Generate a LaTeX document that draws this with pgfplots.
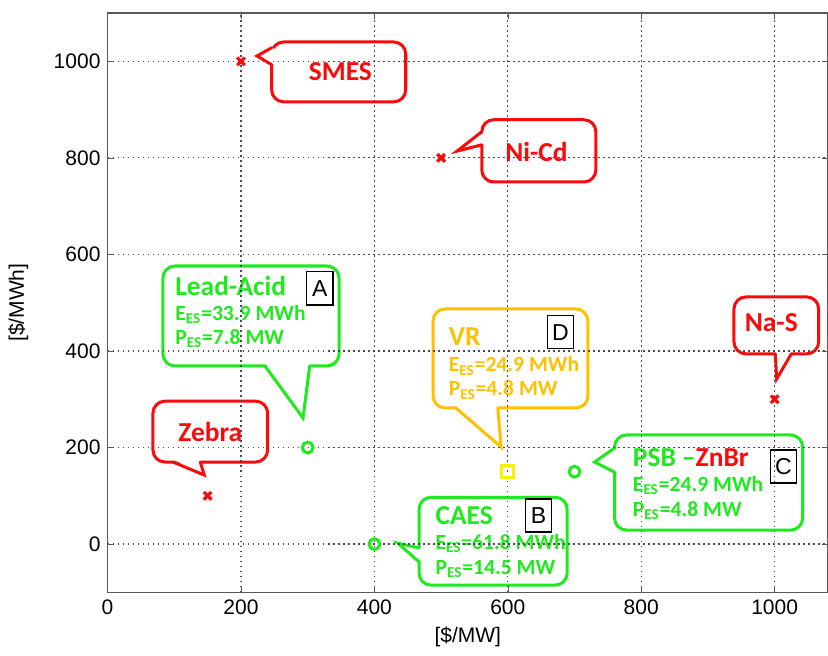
\documentclass[border=0pt]{standalone}
\usepackage{fontspec}
\setmainfont{Liberation Sans}
\newfontfamily\calib{Carlito}
\usepackage{pgfplots}
\pgfplotsset{compat=1.18}
\definecolor{cR}{RGB}{250,10,10}
\definecolor{cG}{RGB}{30,235,30}
\definecolor{cO}{RGB}{255,192,0}
\definecolor{cY}{RGB}{255,240,0}
\tikzset{
  cbox/.style={line width=1.5pt, rounded corners=6pt},
  carm/.style={line width=1.5pt, line cap=round, line join=miter},
  ttl/.style={font=\calib\bfseries\fontsize{13.7}{15}\selectfont, inner sep=0pt},
  sub/.style={font=\calib\bfseries\fontsize{10.8}{12}\selectfont, inner sep=0pt, anchor=west},
  lbox/.style={draw=black, line width=0.8pt, inner sep=0pt, minimum width=13pt, minimum height=16.5pt, font=\fontsize{11.5}{12}\selectfont},
}
\begin{document}
\begin{tikzpicture}
\begin{axis}[name=ax, scale only axis, width=360pt, height=289.5pt,
  xmin=0, xmax=1080, ymin=-100, ymax=1100,
  xtick={0,200,...,1000}, ytick={0,200,...,1000},
  grid=major, grid style={dash pattern=on 0.9pt off 1.6pt, black!70, line width=0.6pt},
  tick align=inside, major tick length=3pt,
  axis line style={black!65, line width=0.6pt}, tick style={black!65},
  ticklabel style={font=\fontsize{10.5}{12}\selectfont},
  /pgf/number format/assume math mode=true,
  /pgf/number format/1000 sep={},
  xlabel={[\$/MW]}, ylabel={[\$/MWh]},
  label style={font=\fontsize{10.5}{12}\selectfont},
  xlabel style={at={(axis description cs:0.5,-0.076)}, anchor=center},
  ylabel style={at={(axis description cs:-0.124,0.5)}, anchor=center},
  axis on top, clip=false]

\addplot[only marks, mark=x, cR, mark size=2.7pt, line width=1.6pt] coordinates {(200,1000) (500,800) (1000,300) (150,100)};
\addplot[only marks, mark=o, cG, mark size=2.7pt, line width=1.5pt] coordinates {(300,200) (400,0) (700,150)};
\addplot[only marks, mark=square, cY, mark size=3pt, line width=1.5pt] coordinates {(600,150)};

% SMES
\draw[cR, cbox] (axis cs:246,916) rectangle (axis cs:447,1040);
\fill[white] (axis cs:250,1028) -- (axis cs:224,1011) -- (axis cs:250,993) -- cycle;
\draw[cR, carm] (axis cs:246,1028) -- (axis cs:224,1011) -- (axis cs:246,993);
\node[ttl, text=cR] at (axis cs:349,978) {SMES};
% Ni-Cd
\draw[cR, cbox] (axis cs:561,750) rectangle (axis cs:732,879);
\fill[white] (axis cs:565,854) -- (axis cs:524,814) -- (axis cs:565,827) -- cycle;
\draw[cR, carm] (axis cs:561,854) -- (axis cs:524,814) -- (axis cs:561,827);
\node[ttl, text=cR] at (axis cs:643,812) {Ni-Cd};
% Na-S
\draw[cR, cbox] (axis cs:939,394) rectangle (axis cs:1066,512);
\fill[white] (axis cs:1001,399) -- (axis cs:1003,342) -- (axis cs:1025,399) -- cycle;
\draw[cR, carm] (axis cs:1001,394) -- (axis cs:1003,342) -- (axis cs:1025,394);
\node[ttl, text=cR] at (axis cs:995,458) {Na-S};
% Zebra
\draw[cR, cbox] (axis cs:68,170) rectangle (axis cs:240,296);
\fill[white] (axis cs:98,175) -- (axis cs:145,143) -- (axis cs:139,175) -- cycle;
\draw[cR, carm] (axis cs:98,170) -- (axis cs:145,143) -- (axis cs:139,170);
\node[ttl, text=cR] at (axis cs:154,232) {Zebra};
% Lead-Acid
\draw[cG, cbox] (axis cs:83,369) rectangle (axis cs:347,576);
\fill[white] (axis cs:236,374) -- (axis cs:293,261) -- (axis cs:303,374) -- cycle;
\draw[cG, carm] (axis cs:236,369) -- (axis cs:293,261) -- (axis cs:303,369);
\node[ttl, text=cG, anchor=west] at (axis cs:101,535) {Lead-Acid};
\node[sub, text=cG] at (axis cs:101,475) {E\textsubscript{ES}=33.9 MWh};
\node[sub, text=cG] at (axis cs:101,425) {P\textsubscript{ES}=7.8 MW};
\node[lbox] at (axis cs:318,530) {A};
% VR
\draw[cO, cbox] (axis cs:488,282) rectangle (axis cs:720,487);
\fill[white] (axis cs:522,287) -- (axis cs:590,201) -- (axis cs:585,287) -- cycle;
\draw[cO, carm] (axis cs:522,282) -- (axis cs:590,201) -- (axis cs:585,282);
\node[ttl, text=cO, anchor=west] at (axis cs:511,429) {VR};
\node[sub, text=cO] at (axis cs:511,369) {E\textsubscript{ES}=24.9 MWh};
\node[sub, text=cO] at (axis cs:511,319) {P\textsubscript{ES}=4.8 MW};
\node[lbox] at (axis cs:679,439) {D};
% CAES
\draw[cG, cbox] (axis cs:467,-85) rectangle (axis cs:689,97);
\fill[white] (axis cs:471,-8) -- (axis cs:435,2) -- (axis cs:471,-37) -- cycle;
\draw[cG, carm] (axis cs:467,-8) -- (axis cs:435,2) -- (axis cs:467,-37);
\node[ttl, text=cG, anchor=west] at (axis cs:491,60) {CAES};
\node[sub, text=cG] at (axis cs:491,2) {E\textsubscript{ES}=61.8 MWh};
\node[sub, text=cG] at (axis cs:491,-52) {P\textsubscript{ES}=14.5 MW};
\node[lbox] at (axis cs:646,59) {B};
% PSB-ZnBr
\draw[cG, cbox] (axis cs:760,29) rectangle (axis cs:1042,226);
\fill[white] (axis cs:764,199) -- (axis cs:730,170) -- (axis cs:764,149) -- cycle;
\draw[cG, carm] (axis cs:760,199) -- (axis cs:730,170) -- (axis cs:760,149);
\node[ttl, text=cG, anchor=west] at (axis cs:787,180) {PSB –\textcolor{cR}{ZnBr}};
\node[sub, text=cG] at (axis cs:787,122) {E\textsubscript{ES}=24.9 MWh};
\node[sub, text=cG] at (axis cs:787,70) {P\textsubscript{ES}=4.8 MW};
\node[lbox] at (axis cs:1013,161) {C};
\end{axis}
\pgfresetboundingbox
\path[use as bounding box] ([shift={(-53.75pt,-31.5pt)}]ax.south west) rectangle ([shift={(0pt,6.5pt)}]ax.north east);
\end{tikzpicture}
\end{document}
